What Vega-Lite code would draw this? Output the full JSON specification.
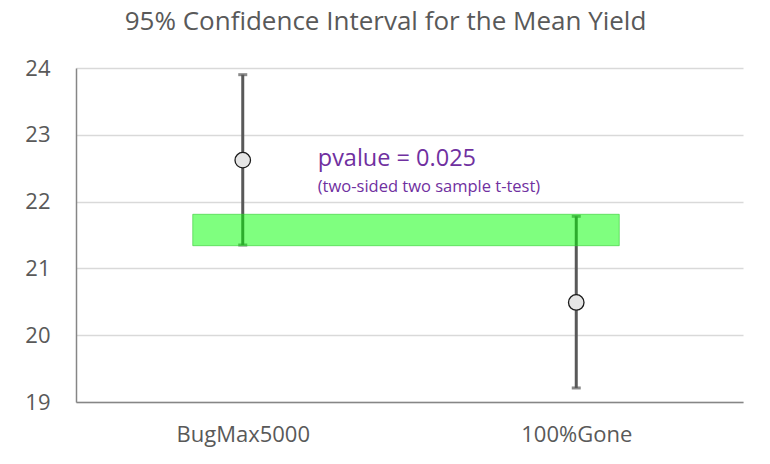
{
  "$schema": "https://vega.github.io/schema/vega-lite/v6.json",
  "width": 667,
  "height": 334,
  "autosize": {"type": "none"},
  "padding": {"left": 76, "top": 68, "right": 27, "bottom": 62},
  "background": "white",
  "title": {
    "text": "95% Confidence Interval for the Mean Yield",
    "font": "Open Sans",
    "fontSize": 26,
    "fontWeight": "normal",
    "color": "#595959",
    "anchor": "middle",
    "dx": -24,
    "offset": 22
  },
  "config": {
    "view": {"stroke": null},
    "axis": {
      "labelFont": "Open Sans",
      "labelFontSize": 22,
      "labelColor": "#595959",
      "domainColor": "#868686",
      "domainWidth": 1.5,
      "ticks": false,
      "title": null
    }
  },
  "datasets": {
    "ci": [
      {"product": "BugMax5000", "mean": 22.62, "lower": 21.35, "upper": 23.9},
      {"product": "100%Gone", "mean": 20.49, "lower": 19.21, "upper": 21.78}
    ],
    "band": [
      {"from": "BugMax5000", "to": "100%Gone", "low": 21.34, "high": 21.81}
    ]
  },
  "layer": [
    {
      "data": {"name": "ci"},
      "mark": {"type": "rule", "color": "#595959", "strokeWidth": 3},
      "encoding": {
        "x": {"field": "product", "type": "nominal", "sort": null,
              "scale": {"type": "point", "padding": 0.5},
              "axis": {"labelAngle": 0, "labelPadding": 22, "grid": false}},
        "y": {"field": "lower", "type": "quantitative",
              "scale": {"domain": [19, 24], "nice": false, "zero": false},
              "axis": {"values": [19, 20, 21, 22, 23, 24], "format": "d", "grid": true, "gridColor": "#d9d9d9", "gridWidth": 1.5, "labelPadding": 26}},
        "y2": {"field": "upper"}
      }
    },
    {
      "data": {"name": "ci"},
      "mark": {"type": "tick", "color": "#595959", "size": 9, "thickness": 3},
      "encoding": {
        "x": {"field": "product", "type": "nominal", "sort": null},
        "y": {"field": "lower", "type": "quantitative"}
      }
    },
    {
      "data": {"name": "ci"},
      "mark": {"type": "tick", "color": "#595959", "size": 9, "thickness": 3},
      "encoding": {
        "x": {"field": "product", "type": "nominal", "sort": null},
        "y": {"field": "upper", "type": "quantitative"}
      }
    },
    {
      "data": {"name": "band"},
      "mark": {"type": "rect", "fill": "#00ff00", "fillOpacity": 0.5, "stroke": "#33cc33", "strokeOpacity": 0.6, "strokeWidth": 1, "xOffset": -50, "x2Offset": 43},
      "encoding": {
        "x": {"field": "from", "type": "nominal", "sort": null},
        "x2": {"field": "to"},
        "y": {"field": "low", "type": "quantitative"},
        "y2": {"field": "high"}
      }
    },
    {
      "data": {"name": "ci"},
      "mark": {"type": "point", "shape": "circle", "filled": true, "fill": "#e6e6e6", "stroke": "#1a1a1a", "strokeWidth": 1.3, "opacity": 1, "size": 240},
      "encoding": {
        "x": {"field": "product", "type": "nominal", "sort": null},
        "y": {"field": "mean", "type": "quantitative"}
      }
    },
    {
      "data": {"values": [{"label": "pvalue = 0.025"}]},
      "mark": {"type": "text", "font": "Open Sans", "fontSize": 23.5, "color": "#7030a0", "align": "left", "baseline": "alphabetic", "dx": 75},
      "encoding": {
        "x": {"datum": "BugMax5000", "type": "nominal"},
        "y": {"datum": 22.53, "type": "quantitative"},
        "text": {"field": "label"}
      }
    },
    {
      "data": {"values": [{"label": "(two-sided two sample t-test)"}]},
      "mark": {"type": "text", "font": "Open Sans", "fontSize": 16.5, "color": "#7030a0", "align": "left", "baseline": "alphabetic", "dx": 75},
      "encoding": {
        "x": {"datum": "BugMax5000", "type": "nominal"},
        "y": {"datum": 22.15, "type": "quantitative"},
        "text": {"field": "label"}
      }
    }
  ]
}
